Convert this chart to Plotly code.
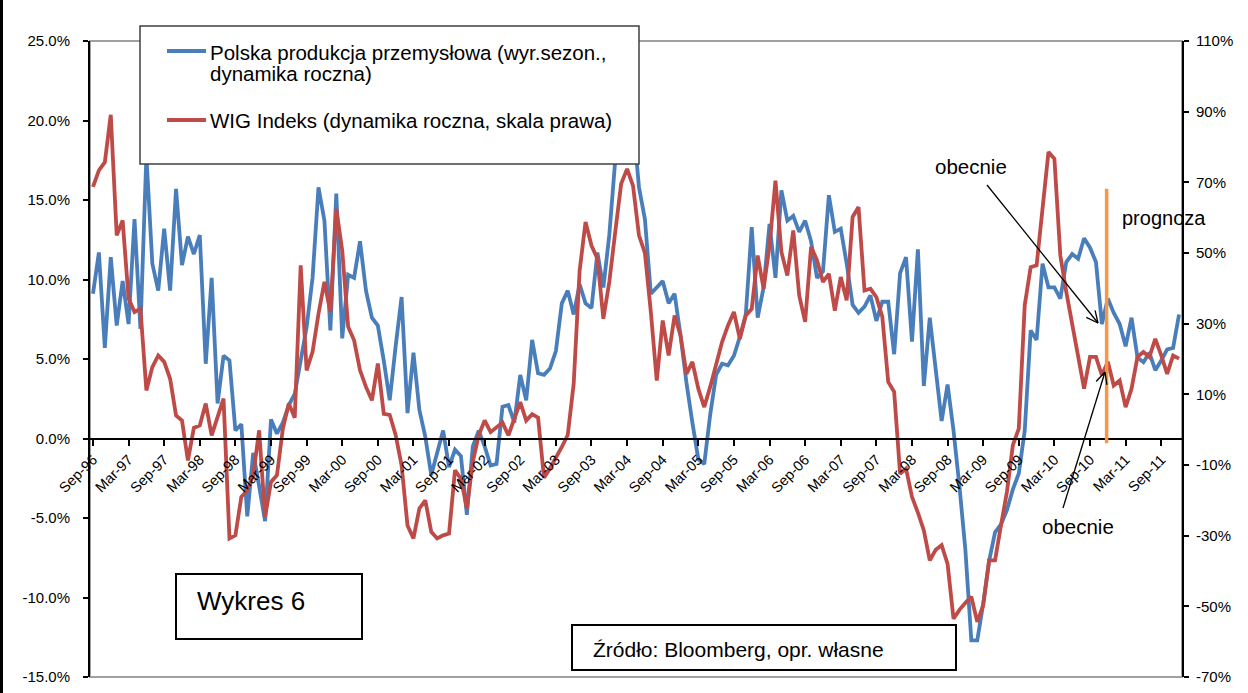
import math
import pandas as pd
import plotly.graph_objects as go

# ---------------- data ----------------
start_month = "1996-09-01"
n_months = 184
month_labels = list(pd.date_range(start_month, periods=n_months, freq="MS").strftime("%b-%y"))

# Polska produkcja przemysłowa (wyr. sezon., dynamika roczna), % - left axis
production = [
    9.1, 11.7, 5.7, 11.4, 7.1, 9.9, 7.2, 13.8, 6.9, 17.8,
    11.0, 9.3, 13.2, 9.3, 15.7, 10.9, 12.7, 11.6, 12.8, 4.7,
    10.1, 2.2, 5.2, 4.9, 0.5, 0.9, -4.9, -0.9, -3.0, -5.2,
    1.2, 0.3, 1.0, 2.1, 2.8, 4.9, 7.0, 10.1, 15.8, 13.7,
    6.8, 15.4, 6.3, 10.3, 10.1, 12.4, 9.3, 7.6, 7.1, 4.9,
    2.4, 5.8, 8.9, 1.6, 5.4, 1.8, 0.1, -2.3, -1.0, 0.5,
    -1.8, -0.7, -1.1, -4.8, -0.5, 0.5, -0.5, -1.7, -1.6, 2.0,
    2.1, 1.0, 4.0, 2.4, 6.2, 4.1, 4.0, 4.4, 5.5, 8.5,
    9.3, 7.8, 9.7, 8.5, 8.2, 11.7, 9.5, 12.8, 17.5, 19.5,
    21.0, 20.0, 15.8, 13.8, 9.1, 9.5, 9.9, 8.5, 9.1, 6.5,
    3.5, 1.0, -1.3, -1.6, 1.5, 4.0, 4.7, 4.6, 5.2, 6.4,
    7.8, 13.3, 7.6, 9.5, 13.5, 10.1, 15.6, 13.7, 14.0, 13.0,
    13.7, 12.4, 10.1, 10.5, 15.3, 13.0, 13.2, 11.0, 8.4, 7.9,
    8.3, 9.0, 7.4, 8.6, 8.6, 5.3, 10.4, 11.4, 6.1, 11.9,
    3.3, 7.6, 4.3, 1.1, 3.4, 0.5, -3.0, -7.0, -12.7, -12.7,
    -10.4, -7.7, -5.9, -5.4, -4.5, -3.2, -2.2, 0.5, 6.8, 6.2,
    11.0, 9.5, 9.5, 8.8, 11.1, 11.6, 11.3, 12.6, 12.0, 11.1,
    7.2, 8.8, 7.9, 7.2, 5.8, 7.6, 5.1, 4.8, 5.4, 4.3,
    4.9, 5.6, 5.7, 7.8,
]

# WIG Indeks (dynamika roczna), % - right axis
wig = [
    68.7, 73.4, 75.7, 89.1, 55.0, 59.2, 37.1, 33.3, 34.2, 11.1,
    17.7, 21.0, 19.2, 14.4, 4.0, 2.6, -8.7, 0.5, 1.2, 7.4,
    -1.6, 4.0, 8.8, -30.8, -29.9, -19.0, -17.2, -12.9, -0.2, -24.7,
    -14.8, -12.9, 0.3, 7.4, 3.4, 46.5, 16.8, 22.0, 32.8, 41.8,
    33.3, 62.5, 50.7, 29.1, 25.3, 16.8, 12.1, 8.3, 18.7, 4.5,
    4.2, -1.5, -10.1, -27.1, -30.8, -22.3, -20.0, -28.9, -30.8, -29.9,
    -29.4, -11.5, -13.9, -22.3, -9.1, -1.5, 2.6, -0.7, 0.8, 2.0,
    -1.6, 3.5, 7.8, 2.6, 4.4, 3.4, -13.6, -11.0, -8.2, -4.9,
    -1.5, 13.0, 45.0, 58.8, 52.1, 48.4, 31.4, 41.8, 55.9, 69.6,
    73.8, 69.0, 55.0, 50.0, 33.3, 13.9, 30.9, 21.0, 32.3, 26.7,
    15.8, 19.2, 11.6, 6.4, 12.1, 18.2, 24.8, 29.5, 33.3, 25.7,
    32.3, 34.2, 49.3, 39.9, 52.1, 70.5, 50.3, 43.6, 56.4, 38.0,
    30.5, 51.7, 48.0, 41.8, 44.1, 33.7, 43.2, 36.6, 60.2, 63.0,
    39.4, 39.9, 37.5, 32.0, 13.5, 10.7, -12.5, -11.0, -19.0, -23.5,
    -28.5, -37.0, -34.0, -32.7, -38.0, -53.5, -51.0, -49.0, -47.3, -54.4,
    -49.7, -37.0, -37.0, -27.1, -17.6, -4.4, 0.3, 35.2, 46.0, 46.5,
    62.5, 78.6, 76.7, 49.3, 39.0, 29.5, 21.0, 11.6, 20.6, 20.6,
    15.4, 19.2, 12.5, 13.9, 6.4, 11.6, 20.6, 22.0, 20.6, 25.7,
    21.0, 15.8, 21.0, 20.1,
]

x_index = list(range(n_months))
x_tickvals = x_index[::6]
x_ticktext = month_labels[::6]

left_tickvals = [-15, -10, -5, 0, 5, 10, 15, 20, 25]
left_ticktext = ["-15.0%", "-10.0%", "-5.0%", "0.0%", "5.0%", "10.0%", "15.0%", "20.0%", "25.0%"]
right_tickvals = [-70, -50, -30, -10, 10, 30, 50, 70, 90, 110]
right_ticktext = ["-70%", "-50%", "-30%", "-10%", "10%", "30%", "50%", "70%", "90%", "110%"]

name_prod_1 = "Polska produkcja przemysłowa (wyr.sezon.,"
name_prod_2 = "dynamika roczna)"
name_wig = "WIG Indeks (dynamika roczna, skala prawa)"

forecast_x = 170.8          # start of forecast (between Nov-10 and Dec-10)
forecast_y = (-0.3, 15.7)   # vertical extent on the left axis

BLUE = "#4A7EBB"
RED = "#BE4B48"
ORANGE = "#F79646"
FONT = "Liberation Sans, Arial, sans-serif"

# ---------------- layout geometry ----------------
W, H = 1248, 693
L, R, T, B = 90, 1182, 41, 677   # plot area in pixels


def xp(px):
    return (px - L) / (R - L)


def yp(py):
    return (B - py) / (B - T)


fig = go.Figure()
fig.add_trace(go.Scatter(x=x_index, y=production, mode="lines", name=name_prod_1 + " " + name_prod_2,
                         line=dict(color=BLUE, width=3.8), yaxis="y", showlegend=False))
fig.add_trace(go.Scatter(x=x_index, y=wig, mode="lines", name=name_wig,
                         line=dict(color=RED, width=3.8), yaxis="y2", showlegend=False))

y_range = [-15, 25]
zero_pos = (0 - y_range[0]) / (y_range[1] - y_range[0])

fig.update_layout(
    width=W, height=H,
    margin=dict(l=L, r=W - R, t=T, b=H - B, pad=0, autoexpand=False),
    paper_bgcolor="white", plot_bgcolor="white",
    font=dict(family=FONT, color="black", size=15),
    xaxis=dict(
        range=[-0.5, n_months - 0.5], tickvals=x_tickvals, ticktext=x_ticktext,
        tickangle=-45, tickfont=dict(size=14.5, family=FONT),
        anchor="free", position=zero_pos, automargin=False,
        showline=True, linecolor="black", linewidth=2,
        ticks="outside", ticklen=6, tickwidth=1.5, tickcolor="black",
        showgrid=False, zeroline=False,
    ),
    yaxis=dict(
        range=y_range, tickvals=left_tickvals, ticktext=left_ticktext,
        tickfont=dict(size=15, family=FONT), automargin=False,
        showline=True, linecolor="black", linewidth=2,
        ticks="outside", ticklen=5, tickwidth=1.5, tickcolor="black",
        showgrid=False, zeroline=False, ticklabelstandoff=10,
    ),
    yaxis2=dict(
        range=[-70, 110], tickvals=right_tickvals, ticktext=right_ticktext,
        tickfont=dict(size=15, family=FONT), automargin=False,
        overlaying="y", side="right",
        showline=True, linecolor="black", linewidth=2,
        ticks="outside", ticklen=5, tickwidth=1.5, tickcolor="black",
        showgrid=False, zeroline=False, ticklabelstandoff=4,
    ),
)

shapes = []
# plot-area frame (grey top/bottom)
shapes.append(dict(type="rect", xref="paper", yref="paper", x0=0, x1=1, y0=0, y1=1,
                   line=dict(color="#A0A0A0", width=2), layer="below"))
# outer left border of the chart
shapes.append(dict(type="line", xref="paper", yref="paper", x0=xp(1.5), x1=xp(1.5), y0=yp(0), y1=yp(H),
                   line=dict(color="black", width=3), layer="above"))
# forecast line
shapes.append(dict(type="line", xref="x", yref="y", x0=forecast_x, x1=forecast_x,
                   y0=forecast_y[0], y1=forecast_y[1], line=dict(color=ORANGE, width=3.5), layer="above"))

# legend box
shapes.append(dict(type="rect", xref="paper", yref="paper", x0=xp(140), x1=xp(639), y0=yp(26), y1=yp(164),
                   line=dict(color="#404040", width=1.5), fillcolor="white", layer="above"))
shapes.append(dict(type="line", xref="paper", yref="paper", x0=xp(167), x1=xp(206), y0=yp(51), y1=yp(51),
                   line=dict(color=BLUE, width=3.8), layer="above"))
shapes.append(dict(type="line", xref="paper", yref="paper", x0=xp(167), x1=xp(206), y0=yp(120), y1=yp(120),
                   line=dict(color=RED, width=3.8), layer="above"))

# text boxes
shapes.append(dict(type="rect", xref="paper", yref="paper", x0=xp(176), x1=xp(362), y0=yp(574), y1=yp(639),
                   line=dict(color="black", width=2), fillcolor="white", layer="above"))
shapes.append(dict(type="rect", xref="paper", yref="paper", x0=xp(572), x1=xp(956), y0=yp(625), y1=yp(670),
                   line=dict(color="black", width=2), fillcolor="white", layer="above"))


def arrow(x0, y0, x1, y1, head=13):
    dx, dy = x1 - x0, y1 - y0
    n = math.hypot(dx, dy)
    ux, uy = dx / n, dy / n
    out = [dict(type="line", xref="paper", yref="paper", x0=xp(x0), y0=yp(y0), x1=xp(x1), y1=yp(y1),
                line=dict(color="black", width=1.3), layer="above")]
    for ang in (0.45, -0.45):
        c, s = math.cos(ang), math.sin(ang)
        bx = -(ux * c - uy * s)
        by = -(ux * s + uy * c)
        out.append(dict(type="line", xref="paper", yref="paper", x0=xp(x1), y0=yp(y1),
                        x1=xp(x1 + head * bx), y1=yp(y1 + head * by),
                        line=dict(color="black", width=1.3), layer="above"))
    return out


shapes += arrow(987, 185, 1098, 323)
shapes += arrow(1063, 508, 1105, 372)
fig.update_layout(shapes=shapes)


def txt(text, x, y, size, xanchor="left"):
    return dict(text=text, xref="paper", yref="paper", x=xp(x), y=yp(y), xanchor=xanchor,
                yanchor="middle", showarrow=False, font=dict(size=size, family=FONT, color="black"),
                borderpad=0)


annotations = [
    txt(name_prod_1, 209, 52.5, 20.5),
    txt(name_prod_2, 209, 73.5, 20.5),
    txt(name_wig, 209, 120, 20.5),
    txt("obecnie", 934, 167, 20.5),
    txt("prognoza", 1121, 218, 20),
    txt("obecnie", 1041, 526, 20.5),
    txt("Wykres 6", 196, 601, 26),
    txt("Źródło: Bloomberg, opr. własne", 592, 649.5, 21),
]
fig.update_layout(annotations=annotations)

fig.write_html("out.html", config={"displayModeBar": False},
               post_script="document.body.style.margin='0';document.body.style.padding='0';")
